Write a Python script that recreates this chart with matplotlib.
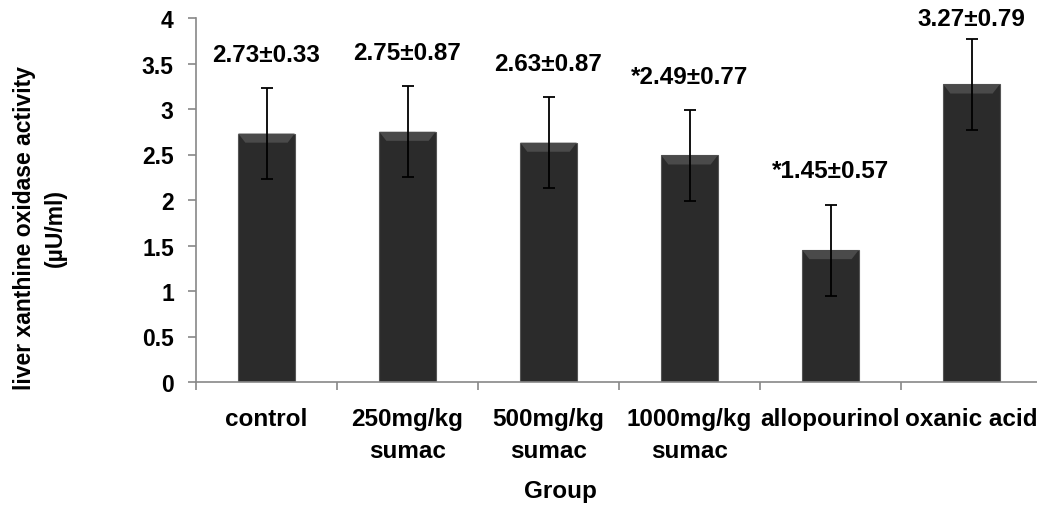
import numpy as np
import matplotlib
matplotlib.use('Agg')
import matplotlib.pyplot as plt

groups = ['control', '250mg/kg\nsumac', '500mg/kg\nsumac', '1000mg/kg\nsumac',
          'allopourinol', 'oxanic acid']
means = [2.73, 2.75, 2.63, 2.49, 1.45, 3.27]
errs = [0.5, 0.5, 0.5, 0.5, 0.5, 0.5]
labels = ['2.73±0.33', '2.75±0.87', '2.63±0.87', '*2.49±0.77', '*1.45±0.57', '3.27±0.79']

plt.rcParams['font.family'] = ['Liberation Sans', 'DejaVu Sans']
plt.rcParams['font.weight'] = 'bold'

fig = plt.figure(figsize=(10.37, 5.10), dpi=100)
ax = fig.add_axes([196 / 1037, 127 / 510, 846 / 1037, 364 / 510])

x = np.arange(len(groups))
ax.bar(x, means, width=0.4, color='#2b2b2b', edgecolor='#555555', linewidth=0.8, zorder=2)
# light bevel at the top of each bar
for xi, m in zip(x, means):
    ax.fill([xi - 0.2, xi + 0.2, xi + 0.15, xi - 0.15],
            [m, m, m - 0.1, m - 0.1], color='#4a4a4a', zorder=3, lw=0)
ax.errorbar(x, means, yerr=errs, fmt='none', ecolor='black', elinewidth=1.3,
            capsize=4.5, capthick=1.3, zorder=4)

for xi, m, e, t in zip(x, means, errs, labels):
    ax.text(xi, min(m + e + 0.37, 3.99), t, ha='center', va='center',
            fontsize=17.5, fontweight='bold')

ax.set_xlim(-0.5, 5.5)
ax.set_ylim(0, 4)
ax.set_yticks(np.arange(0, 4.01, 0.5))
ax.set_yticklabels(['0', '0.5', '1', '1.5', '2', '2.5', '3', '3.5', '4'])
ax.set_xticks(np.arange(-0.5, 5.6, 1), minor=False)
ax.set_xticklabels([])
ax.set_xticks(x, minor=True)
ax.set_xticklabels(groups, minor=True, fontsize=17.5, fontweight='bold', linespacing=1.5)
ax.tick_params(axis='x', which='minor', length=0, pad=18)
ax.tick_params(axis='x', which='major', length=6, color='#888888', width=1.2)
ax.tick_params(axis='y', length=6, color='#888888', width=1.2, pad=10, labelsize=16.5)
for lab in ax.get_yticklabels():
    lab.set_fontweight('bold')

ax.spines['top'].set_visible(False)
ax.spines['right'].set_visible(False)
ax.spines['left'].set_color('#888888')
ax.spines['bottom'].set_color('#888888')
ax.spines['left'].set_linewidth(1.2)
ax.spines['bottom'].set_linewidth(1.2)

fig.text(40 / 1037, 1 - 228 / 510, 'liver xanthine oxidase activity\n(µU/ml)',
         rotation=90, ha='center', va='center', fontsize=16.5, fontweight='bold',
         linespacing=1.45)
fig.text(560 / 1037, 1 - 492 / 510, 'Group', ha='center', va='center',
         fontsize=17.5, fontweight='bold')

fig.savefig('out.png', dpi=100)
